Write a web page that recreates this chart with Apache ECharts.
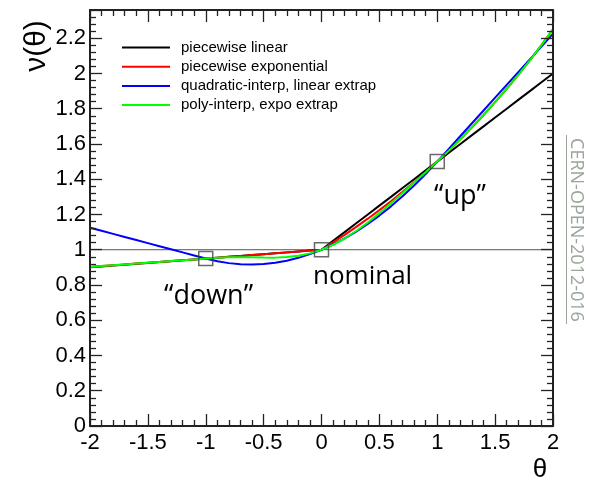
<!DOCTYPE html>
<html>
<head>
<meta charset="utf-8">
<script src="https://cdn.jsdelivr.net/npm/echarts@6/dist/echarts.min.js"></script>
<style>
html,body{margin:0;padding:0;background:#fff;overflow:hidden;}
.w{position:absolute;left:0;top:0;width:589px;height:485px;}
</style>
</head>
<body>
<div class="w" id="main"></div>
<script>
// ---- data ----
const theta = [-2.0,-1.9,-1.8,-1.7,-1.6,-1.5,-1.4,-1.3,-1.2,-1.1,-1.0,-0.9,-0.8,-0.7,-0.6,-0.5,-0.4,-0.3,-0.2,-0.1,0.0,
               0.1,0.2,0.3,0.4,0.5,0.6,0.7,0.8,0.9,1.0,1.1,1.2,1.3,1.4,1.5,1.6,1.7,1.8,1.9,2.0];
const piecewiseLinear = [0.900,0.905,0.910,0.915,0.920,0.925,0.930,0.935,0.940,0.945,0.950,0.955,0.960,0.965,0.970,0.975,0.980,0.985,0.990,0.995,1.000,
                         1.05,1.10,1.15,1.20,1.25,1.30,1.35,1.40,1.45,1.50,1.55,1.60,1.65,1.70,1.75,1.80,1.85,1.90,1.95,2.00];
const piecewiseExpo = [0.9025,0.9071,0.9118,0.9165,0.9212,0.9259,0.9307,0.9355,0.9403,0.9451,0.9500,0.9549,0.9598,0.9647,0.9697,0.9747,0.9797,0.9847,0.9898,0.9949,1.0000,
                       1.0414,1.0845,1.1294,1.1761,1.2247,1.2754,1.3282,1.3832,1.4404,1.5000,1.5621,1.6267,1.6940,1.7641,1.8371,1.9131,1.9923,2.0747,2.1606,2.2500];
const quadInterp = [1.1250,1.1075,1.0900,1.0725,1.0550,1.0375,1.0200,1.0025,0.9850,0.9675,0.9500,0.9348,0.9240,0.9178,0.9160,0.9188,0.9260,0.9378,0.9540,0.9748,1.0000,
                    1.0298,1.0640,1.1028,1.1460,1.1938,1.2460,1.3028,1.3640,1.4298,1.5000,1.5725,1.6450,1.7175,1.7900,1.8625,1.9350,2.0075,2.0800,2.1525,2.2250];
const polyInterp = [0.9025,0.9071,0.9118,0.9165,0.9212,0.9259,0.9307,0.9355,0.9403,0.9451,0.9500,0.9545,0.9573,0.9578,0.9568,0.9553,0.9552,0.9581,0.9657,0.9794,1.0000,
                    1.0281,1.0637,1.1061,1.1545,1.2076,1.2639,1.3220,1.3809,1.4400,1.5000,1.5621,1.6267,1.6940,1.7641,1.8371,1.9131,1.9923,2.0747,2.1606,2.2500];
const nodeTheta = [-1, 0, 1];
const nodeValue = [0.95, 1.0, 1.5];
const nominalTheta = [-2, 2];
const nominalValue = [1, 1];
const seriesNames = ['piecewise linear','piecewise exponential','quadratic-interp, linear extrap','poly-interp, expo extrap'];
const seriesColors = ['#000000','#ff0000','#0000ff','#00ff00'];
const annotations = ['\u201cdown\u201d','nominal','\u201cup\u201d'];

(function(){
  const zip = (xs, ys) => xs.map((x, i) => [x, ys[i]]);
  const curves = [piecewiseLinear, piecewiseExpo, quadInterp, polyInterp];
  const axisColor = '#222';
  const labelFont = {fontFamily:'Liberation Sans, Arial, sans-serif', fontSize:22, color:'#000'};

  const xAx = (pos, showLabel) => ({
    type:'value', position:pos, min:-2, max:2, interval:0.5, z:50,
    axisLine:{show:true, onZero:false, lineStyle:{color:axisColor, width:2}},
    axisTick:{show:true, inside:true, length:12, lineStyle:{color:axisColor, width:1.3}},
    minorTick:{show:true, splitNumber:5, length:6, lineStyle:{color:axisColor, width:1.3}},
    splitLine:{show:false}, minorSplitLine:{show:false},
    axisLabel:Object.assign({show:showLabel, margin:6}, labelFont)
  });
  const yAx = (pos, showLabel) => ({
    type:'value', position:pos, min:0, max:2.36, interval:0.2, z:50,
    axisLine:{show:true, onZero:false, lineStyle:{color:axisColor, width:2}},
    axisTick:{show:true, inside:true, length:12, lineStyle:{color:axisColor, width:1.3}},
    minorTick:{show:true, splitNumber:5, length:6, lineStyle:{color:axisColor, width:1.3}},
    splitLine:{show:false}, minorSplitLine:{show:false},
    axisLabel:Object.assign({show:showLabel, margin:4, showMaxLabel:false,
      formatter: v => (Math.abs(v/0.2 - Math.round(v/0.2)) < 1e-6) ? String(+v.toFixed(1)) : ''}, labelFont)
  });

  const seriesList = [{
    type:'line', name:'nominal-line', data:zip(nominalTheta, nominalValue),
    showSymbol:false, silent:true, lineStyle:{color:'#555', width:1}, z:1
  }];
  curves.forEach((c, i) => seriesList.push({
    type:'line', name:seriesNames[i], data:zip(theta, c), showSymbol:false,
    smooth:false, color:seriesColors[i], lineStyle:{color:seriesColors[i], width:2}, z:2+i
  }));
  seriesList.push({
    type:'scatter', name:'nodes', data:zip(nodeTheta, nodeValue), symbol:'rect', symbolSize:14,
    itemStyle:{color:'rgba(0,0,0,0)', borderColor:'#444', borderWidth:1.5}, z:10, silent:true
  });

  const ch = echarts.init(document.getElementById('main'), null, {renderer:'canvas'});
  ch.setOption({
    animation:false,
    backgroundColor:'#fff',
    grid:{left:90, right:36, top:10, bottom:59},
    xAxis:[xAx('bottom', true), xAx('top', false)],
    yAxis:[yAx('left', true), yAx('right', false)],
    legend:{
      data:seriesNames, orient:'vertical', left:117, top:35,
      icon:'rect', itemWidth:48, itemHeight:2, itemGap:4.2,
      textStyle:{fontFamily:'Liberation Sans, Arial, sans-serif', fontSize:15, lineHeight:15, color:'#000', padding:[0,0,0,6]},
      selectedMode:false
    },
    series:seriesList,
    graphic:[
      {type:'text', x:37, y:46, rotation:Math.PI/2,
       style:{text:'\u03bd(\u03b8)', fontFamily:'Liberation Sans, Arial, sans-serif', fontSize:30, fill:'#000', align:'center', verticalAlign:'middle'}},
      {type:'text', x:540, y:470,
       style:{text:'\u03b8', fontFamily:'Liberation Sans, Arial, sans-serif', fontSize:26, fill:'#000', align:'center', verticalAlign:'middle'}},
      {type:'text', x:164, y:296,
       style:{text:annotations[0], fontFamily:'Open Sans, sans-serif', fontSize:27, fill:'#000', align:'left', verticalAlign:'middle'}},
      {type:'text', x:313, y:277,
       style:{text:annotations[1], fontFamily:'Open Sans, sans-serif', fontSize:26, fill:'#000', align:'left', verticalAlign:'middle'}},
      {type:'text', x:434, y:196,
       style:{text:annotations[2], fontFamily:'Open Sans, sans-serif', fontSize:27, fill:'#000', align:'left', verticalAlign:'middle'}},
      {type:'text', x:576, y:230, rotation:-Math.PI/2,
       style:{text:'CERN-OPEN-2012-016', fontFamily:'Open Sans, sans-serif', fontSize:18, fill:'#9aa59a', align:'center', verticalAlign:'middle'}},
      {type:'line', shape:{x1:566.5, y1:135, x2:566.5, y2:324}, style:{stroke:'#9aa59a', lineWidth:1}}
    ]
  });
})();
</script>
</body>
</html>
